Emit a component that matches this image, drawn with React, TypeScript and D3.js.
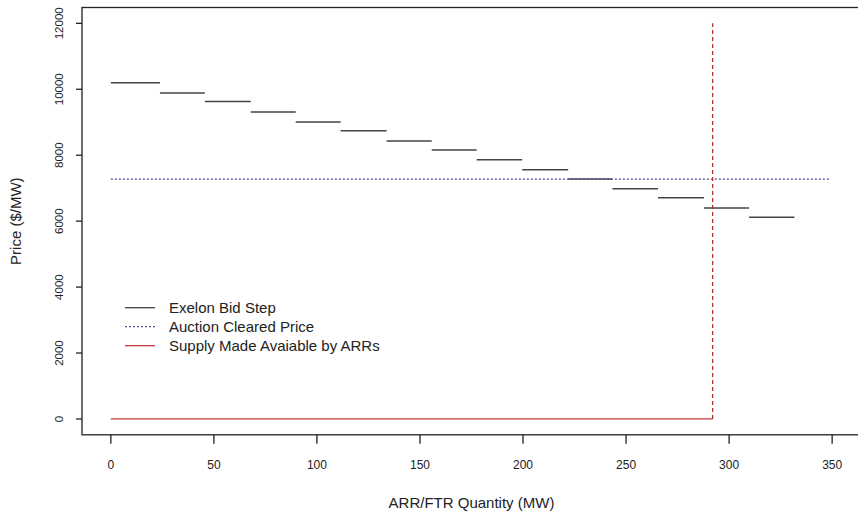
import React from 'react';
import * as d3 from 'd3';

// bid steps (MW start / end, price $/MW)
const stepStart = [0, 23.8, 45.6, 67.9, 89.7, 111.5, 133.8, 155.7, 177.5, 199.6, 221.9, 243.4, 265.5, 287.8, 309.7];
const stepEnd = [23.8, 45.6, 67.9, 89.7, 111.5, 133.8, 155.7, 177.5, 199.6, 221.9, 243.4, 265.5, 287.8, 309.7, 331.7];
const stepPrice = [10200, 9890, 9630, 9310, 9010, 8740, 8430, 8160, 7860, 7560, 7275, 6980, 6710, 6400, 6120];

const clearedPrice = 7275;
const clearedRange = [0, 349];
const arrSupply = 292;
const arrTop = 12000;

const xTicks = [0, 50, 100, 150, 200, 250, 300, 350];
const yTicks = [0, 2000, 4000, 6000, 8000, 10000, 12000];

const legendLabels = ['Exelon Bid Step', 'Auction Cleared Price', 'Supply Made Avaiable by ARRs'];

const W = 858;
const H = 511;
const font = '"Liberation Sans", Arial, sans-serif';

export default function App() {
    // R style usr: 4% padding round the data range
    const xScale = d3.scaleLinear().domain([-14, 364]).range([82, 861]);
    const yScale = d3.scaleLinear().domain([-480, 12480]).range([434.8, 7.5]);

    const left = xScale(-14);
    const right = xScale(364);
    const top = yScale(12480);
    const bottom = yScale(-480);

    const hLine = d3.line<[number, number]>()
        .x(d => xScale(d[0]))
        .y(d => yScale(d[1]));

    const legendColors = ['#444', '#4b4b9b', '#c03a3a'];
    const legendDash = [null, '2,2', null];

    return (
        <svg width={W} height={H} style={{position: 'absolute', left: 0, top: 0, background: '#fff'}}
             fontFamily={font}>
            <rect x={0} y={0} width={W} height={H} fill="#fff" />

            {/* plot box */}
            <rect x={left} y={top} width={right - left} height={bottom - top}
                  fill="none" stroke="#222" strokeWidth={1.3} />

            {/* bid steps */}
            {stepPrice.map((p, i) => (
                <path key={'s' + i}
                      d={hLine([[stepStart[i], p], [stepEnd[i], p]]) || ''}
                      stroke="#444" strokeWidth={1.5} fill="none" />
            ))}

            {/* cleared price */}
            <path d={hLine([[clearedRange[0], clearedPrice], [clearedRange[1], clearedPrice]]) || ''}
                  stroke="#4b4b9b" strokeWidth={1.3} strokeDasharray="2,2" fill="none" />

            {/* ARR supply */}
            <path d={hLine([[0, 0], [arrSupply, 0]]) || ''}
                  stroke="#c03a3a" strokeWidth={1.3} fill="none" />
            <path d={hLine([[arrSupply, 0], [arrSupply, arrTop]]) || ''}
                  stroke="#b03030" strokeWidth={1.3} strokeDasharray="4,3" fill="none" />

            {/* x axis */}
            {xTicks.map(t => (
                <g key={'xt' + t} transform={`translate(${xScale(t)},${bottom})`}>
                    <line y1={0} y2={9} stroke="#222" strokeWidth={1.3} />
                    <text y={34} textAnchor="middle" fontSize={12} fill="#222">{t}</text>
                </g>
            ))}

            {/* y axis */}
            {yTicks.map(t => (
                <g key={'yt' + t} transform={`translate(${left},${yScale(t)})`}>
                    <line x1={0} x2={-6} stroke="#222" strokeWidth={1.3} />
                    <text transform="translate(-19,0) rotate(-90)" textAnchor="middle"
                          fontSize={11.5} fill="#222">{t}</text>
                </g>
            ))}

            <text x={(left + right) / 2} y={508} textAnchor="middle" fontSize={15} fill="#222">
                ARR/FTR Quantity (MW)
            </text>
            <text transform={`translate(21,${(top + bottom) / 2}) rotate(-90)`} textAnchor="middle"
                  fontSize={15} fill="#222">
                Price ($/MW)
            </text>

            {/* legend */}
            {legendLabels.map((lab, i) => {
                const y = 307.7 + i * 19;
                return (
                    <g key={'lg' + i}>
                        <line x1={125} x2={155} y1={y} y2={y} stroke={legendColors[i]} strokeWidth={1.3}
                              strokeDasharray={legendDash[i] || undefined} />
                        <text x={169} y={y + 5.4} fontSize={15} fill="#222">{lab}</text>
                    </g>
                );
            })}
        </svg>
    );
}
